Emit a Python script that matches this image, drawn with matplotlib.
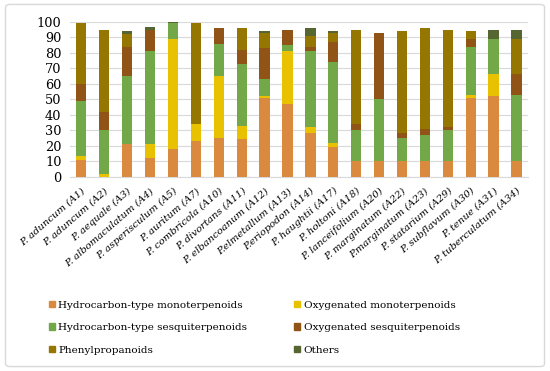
import matplotlib.pyplot as plt
from matplotlib.patches import FancyBboxPatch, Patch
import numpy as np

samples = ['P. aduncum (A1)', 'P. aduncum (A2)', 'P. aequale (A3)', 'P. albomaculatum (A4)',
           'P. asperisculum (A5)', 'P. auritum (A7)', 'P. combricola (A10)', 'P. divortans (A11)',
           'P. elbancoanum (A12)', 'P.elmetallum (A13)', 'P.eriopodon (A14)', 'P. haughtii (A17)',
           'P. holtoni (A18)', 'P. lanceifolium (A20)', 'P. marginatum (A22)', 'P.marginatum (A23)',
           'P. statarium (A29)', 'P. subflavum (A30)', 'P. tenue (A31)', 'P. tuberculatum (A34)']

hc_mono   = [11, 0, 21, 12, 18, 23, 25, 24, 51, 47, 28, 19, 10, 10, 10, 10, 10, 51, 52, 10]
oxy_mono  = [2, 2, 0, 9, 71, 11, 40, 9, 1, 34, 4, 3, 0, 0, 0, 0, 0, 2, 14, 0]
hc_sesq   = [36, 28, 44, 60, 10, 0, 21, 40, 11, 4, 49, 52, 20, 40, 15, 17, 20, 31, 23, 43]
oxy_sesq  = [11, 12, 19, 14, 0, 0, 10, 9, 20, 10, 3, 13, 4, 43, 3, 4, 2, 5, 0, 13]
phenyl    = [39, 53, 8, 0, 0, 65, 0, 14, 10, 0, 7, 6, 61, 0, 66, 65, 63, 5, 0, 23]
others    = [0, 0, 2, 2, 1, 0, 0, 0, 1, 0, 5, 1, 0, 0, 0, 0, 0, 0, 6, 6]

series = [hc_mono, oxy_mono, hc_sesq, oxy_sesq, phenyl, others]
labels = ['Hydrocarbon-type monoterpenoids', 'Oxygenated monoterpenoids',
          'Hydrocarbon-type sesquiterpenoids', 'Oxygenated sesquiterpenoids',
          'Phenylpropanoids', 'Others']
colors = ['#d98a3e', '#e8c200', '#72a848', '#8f5416', '#957600', '#566632']

fig = plt.figure(figsize=(5.5, 3.71), dpi=100)
ax = fig.add_axes([0.127, 0.524, 0.833, 0.417])

x = np.arange(len(samples))
bottom = np.zeros(len(samples))
for vals, col, lab in zip(series, colors, labels):
    ax.bar(x, vals, 0.45, bottom=bottom, color=col, label=lab, zorder=3)
    bottom = bottom + np.array(vals)

ax.set_xlim(-0.5, len(samples) - 0.5)
ax.set_ylim(0, 100)
ax.set_yticks(range(0, 101, 10))
ax.yaxis.grid(True, color='#d9d9d9', linewidth=0.8, zorder=0)
for s in ['top', 'right', 'left']:
    ax.spines[s].set_visible(False)
ax.spines['bottom'].set_color('#d9d9d9')
ax.tick_params(axis='both', length=0)
ax.tick_params(axis='x', pad=7)
ax.tick_params(axis='y', pad=6)
ax.set_xticks(x)
ax.set_xticklabels(samples, rotation=41, ha='right', rotation_mode='anchor',
                   fontsize=7.2, family='DejaVu Serif', style='italic')
for t in ax.get_yticklabels():
    t.set_family('DejaVu Serif')
    t.set_fontsize(9.3)

# legend filled column-first, so reorder to get rows of two
order = [0, 2, 4, 1, 3, 5]
handles = [Patch(color=colors[i]) for i in order]
fig.legend(handles, [labels[i] for i in order], ncol=2, loc='upper left',
           bbox_to_anchor=(0.072, 0.215), frameon=False,
           prop={'family': 'DejaVu Serif', 'size': 7.5},
           handlelength=0.6, handleheight=0.6, handletextpad=0.3,
           labelspacing=1.3, columnspacing=4.5)

fig.patches.append(FancyBboxPatch((0.01, 0.012), 0.98, 0.976,
                                  boxstyle='round,pad=0,rounding_size=0.008',
                                  transform=fig.transFigure, fill=False,
                                  edgecolor='#d9d9d9', linewidth=1))

fig.savefig('out.png', dpi=100)
